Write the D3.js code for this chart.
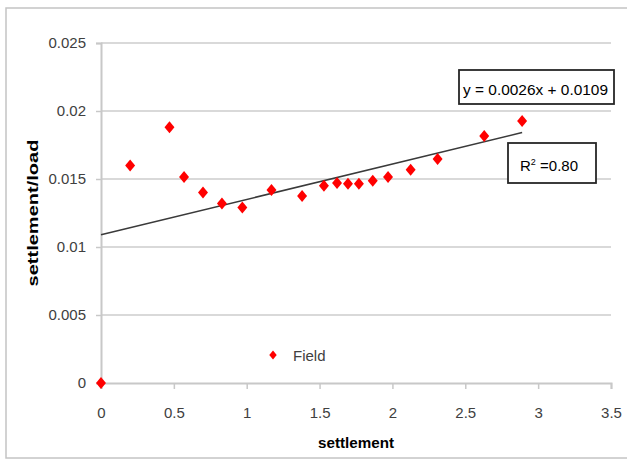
<!DOCTYPE html>
<html>
<head>
<meta charset="utf-8">
<script src="https://cdn.jsdelivr.net/npm/d3@7"></script>
<style>
html,body{margin:0;padding:0;background:#fff;}
svg{display:block;font-family:"Liberation Sans",Arial,sans-serif;}
</style>
</head>
<body>
<svg id="chart" width="627" height="460"></svg>
<script>
// ---- data ----
const settlement = [0, 0.2, 0.47, 0.57, 0.70, 0.83, 0.97, 1.17, 1.38, 1.53, 1.62, 1.695, 1.77, 1.865, 1.97, 2.125, 2.31, 2.63, 2.89];
const settlementLoad = [0, 0.0160, 0.0188, 0.01515, 0.0140, 0.0132, 0.0129, 0.0142, 0.01375, 0.0145, 0.0147, 0.01465, 0.01465, 0.01488, 0.01515, 0.01568, 0.01647, 0.01816, 0.01926];
const xTicks = [0, 0.5, 1, 1.5, 2, 2.5, 3, 3.5];
const xTickLabels = ["0", "0.5", "1", "1.5", "2", "2.5", "3", "3.5"];
const yTicks = [0, 0.005, 0.01, 0.015, 0.02, 0.025];
const yTickLabels = ["0", "0.005", "0.01", "0.015", "0.02", "0.025"];
const trendSlope = 0.0026;
const trendIntercept = 0.0109;
const equationText = "y = 0.0026x + 0.0109";
const r2Value = "0.80";
const seriesName = "Field";
const xTitle = "settlement";
const yTitle = "settlement/load";

// ---- drawing ----
const svg = d3.select("#chart");
const x = d3.scaleLinear().domain([0, 3.5]).range([101, 611]);
const y = d3.scaleLinear().domain([0, 0.025]).range([383, 43]);

// outer border
svg.append("rect").attr("x", 6).attr("y", 8).attr("width", 630).attr("height", 450)
  .attr("fill", "#fff").attr("stroke", "#c4c4c4").attr("stroke-width", 1.5);

// gridlines
svg.append("g").selectAll("line").data(yTicks.filter(d => d > 0)).join("line")
  .attr("x1", x(0)).attr("x2", x(3.5))
  .attr("y1", d => y(d)).attr("y2", d => y(d))
  .attr("stroke", "#d9d9d9").attr("stroke-width", 2);

// axes
const yAxis = d3.axisLeft(y).tickValues(yTicks)
  .tickFormat((d, i) => yTickLabels[i]).tickSize(5).tickPadding(10);
const gy = svg.append("g").attr("transform", `translate(${x(0)},0)`).call(yAxis);
const xAxis = d3.axisBottom(x).tickValues(xTicks)
  .tickFormat((d, i) => xTickLabels[i]).tickSize(6).tickPadding(18);
const gx = svg.append("g").attr("transform", `translate(0,${y(0)})`).call(xAxis);
[gx, gy].forEach(g => {
  g.select(".domain").attr("stroke", "#c8c8c8").attr("stroke-width", 2);
  g.selectAll(".tick line").attr("stroke", "#c8c8c8").attr("stroke-width", 1.5);
  g.selectAll(".tick text").attr("fill", "#404040").attr("font-size", 15)
    .attr("font-family", "Liberation Sans, Arial, sans-serif");
});
gy.select(".tick line").attr("stroke", "none");

// trend line
const trendX = [0, d3.max(settlement)];
svg.append("path")
  .datum(trendX.map(v => [v, trendSlope * v + trendIntercept]))
  .attr("d", d3.line().x(d => x(d[0])).y(d => y(d[1])))
  .attr("fill", "none").attr("stroke", "#3a3a3a").attr("stroke-width", 1.5);

// diamond symbol type (wider than d3.symbolDiamond)
const wideDiamond = {
  draw(ctx, size) {
    const h = Math.sqrt(size) * 0.6, w = h * 0.83;
    ctx.moveTo(0, -h); ctx.lineTo(w, 0); ctx.lineTo(0, h); ctx.lineTo(-w, 0); ctx.closePath();
  }
};
svg.append("g").selectAll("path").data(settlement.map((s, i) => [s, settlementLoad[i]])).join("path")
  .attr("transform", d => `translate(${x(d[0])},${y(d[1])})`)
  .attr("d", d3.symbol().type(wideDiamond).size(100))
  .attr("fill", "#ff0000");

// legend
svg.append("path").attr("transform", "translate(273,355)")
  .attr("d", d3.symbol().type(wideDiamond).size(56)).attr("fill", "#ff0000");
svg.append("text").attr("x", 293).attr("y", 361).attr("font-size", 15)
  .attr("fill", "#404040").text(seriesName);

// equation box
svg.append("rect").attr("x", 459).attr("y", 70).attr("width", 155).attr("height", 34)
  .attr("fill", "#fff").attr("stroke", "#262626").attr("stroke-width", 1.8);
svg.append("text").attr("x", 463).attr("y", 94.5).attr("font-size", 15)
  .attr("fill", "#000").attr("textLength", 145).attr("lengthAdjust", "spacingAndGlyphs")
  .text(equationText);

// R² box
svg.append("rect").attr("x", 508).attr("y", 143).attr("width", 88).attr("height", 40)
  .attr("fill", "#fff").attr("stroke", "#262626").attr("stroke-width", 1.8);
const r2 = svg.append("text").attr("x", 520).attr("y", 171).attr("font-size", 15).attr("fill", "#000");
r2.append("tspan").text("R");
r2.append("tspan").attr("font-size", 9).attr("dy", -6).text("2");
r2.append("tspan").attr("dy", 6).text(" =" + r2Value);

// axis titles
svg.append("text").attr("x", 356).attr("y", 448).attr("text-anchor", "middle")
  .attr("font-size", 15).attr("font-weight", "bold").attr("fill", "#000")
  .attr("textLength", 76).attr("lengthAdjust", "spacingAndGlyphs").text(xTitle);
svg.append("text").attr("transform", "translate(38,213) rotate(-90)")
  .attr("text-anchor", "middle").attr("font-size", 15).attr("font-weight", "bold").attr("fill", "#000")
  .attr("textLength", 147).attr("lengthAdjust", "spacingAndGlyphs").text(yTitle);
</script>
</body>
</html>
